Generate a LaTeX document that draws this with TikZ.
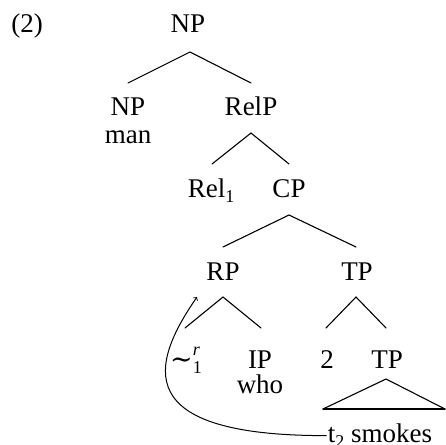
\documentclass[tikz,border=0pt]{standalone}
\usepackage{fontspec}
\setmainfont{Liberation Serif}
\newfontfamily\symfont{DejaVu Serif}
\newcommand{\sbs}[1]{\raisebox{-0.22em}{\fontsize{18}{20}\selectfont #1}}
\newcommand{\sps}[1]{\raisebox{0.45em}{\fontsize{18}{20}\selectfont\itshape #1}}
\begin{document}
\begin{tikzpicture}[x=1pt,y=-1pt,
  lab/.style={anchor=base,inner sep=0pt,font=\fontsize{27}{32}\selectfont},
  br/.style={line width=1.1pt,line cap=round},
  mv/.style={line width=1pt,->}]
\fill[white] (0,0) rectangle (446,444);
\useasboundingbox (0,0) rectangle (446,444);
% labels
\node[lab] (ex) at (27,33) {(2)};
\node[lab] (np0) at (188,33) {NP};
\node[lab] (np1) at (128,115) {NP};
\node[lab] (man) at (128,143) {man};
\node[lab] (relp) at (251,115) {RelP};
\node[lab] (rel) at (211,197) {Rel\sbs{1}};
\node[lab] (cp) at (289,197) {CP};
\node[lab] (rp) at (223,280) {RP};
\node[lab] (tp1) at (357,280) {TP};
\node[lab] (sim) at (186,368) {{\symfont\fontsize{27}{30}\selectfont ∼}\rlap{\sps{r}}\sbs{1}};
\node[lab] (ip) at (260,368) {IP};
\node[lab] (who) at (260,393) {who};
\node[lab] (two) at (327,368) {2};
\node[lab] (tp2) at (387,368) {TP};
\node[lab] (sm) at (380,442) {t\sbs{2} smokes};
% branch points
\coordinate (a0) at (190,52);  \coordinate (l0) at (128,83);  \coordinate (r0) at (251,83);
\coordinate (a1) at (251,133); \coordinate (l1) at (212,164); \coordinate (r1) at (289,164);
\coordinate (a2) at (289,215); \coordinate (l2) at (223,247); \coordinate (r2) at (356,247);
\coordinate (a3) at (223,297); \coordinate (l3) at (185,328); \coordinate (r3) at (261,328);
\coordinate (a4) at (356,297); \coordinate (l4) at (326,328); \coordinate (r4) at (386,328);
\coordinate (t0) at (386,379); \coordinate (t1) at (323,409); \coordinate (t2) at (445,409);
\draw[br] (a0) -- (l0); \draw[br] (a0) -- (r0);
\draw[br] (a1) -- (l1); \draw[br] (a1) -- (r1);
\draw[br] (a2) -- (l2); \draw[br] (a2) -- (r2);
\draw[br] (a3) -- (l3); \draw[br] (a3) -- (r3);
\draw[br] (a4) -- (l4); \draw[br] (a4) -- (r4);
\draw[br] (t0) -- (t1); \draw[br] (t0) -- (t2); \draw[br] (t1) -- (t2);
% movement arrow
\coordinate (tgt) at (197,297);
\draw[mv] ([xshift=-1pt]sm.west) .. controls (130,436) and (150,365) .. (tgt);
\end{tikzpicture}
\end{document}
